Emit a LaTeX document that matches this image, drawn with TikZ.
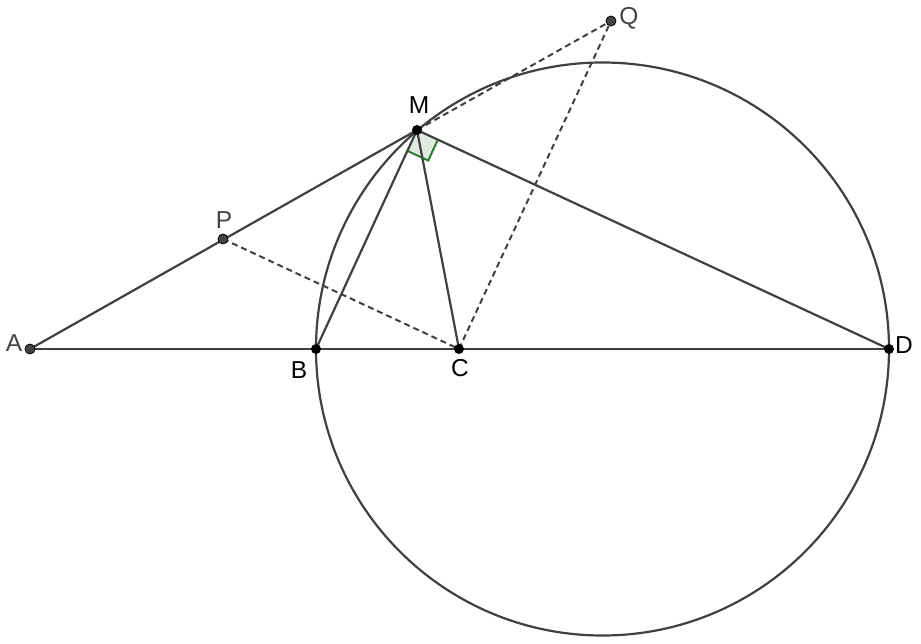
\documentclass[tikz,border=0pt]{standalone}
\usepackage{fontspec}
\setmainfont{Liberation Sans}
\usetikzlibrary{calc}
\definecolor{ln}{HTML}{404040}
\definecolor{gpt}{HTML}{444444}
\definecolor{rg}{HTML}{2E7D32}
\tikzset{
  seg/.style={draw=ln, line width=2.2pt},
  dsh/.style={draw=ln, line width=2pt, dash pattern=on 6pt off 4pt},
  bpt/.style={circle, fill=black, inner sep=0pt, minimum size=10pt},
  gptst/.style={circle, fill=gpt, draw=black, line width=0.8pt, inner sep=0pt, minimum size=10pt},
  lbl/.style={font=\fontsize{24.5}{28}\selectfont, inner sep=0pt},
}
\begin{document}
\begin{tikzpicture}[x=1pt,y=-1pt]
\useasboundingbox (0,0) rectangle (921,644);
\coordinate (A) at (30,349);
\coordinate (B) at (316,349);
\coordinate (C) at (459,349);
\coordinate (D) at (889,349);
\coordinate (M) at (417,130);
\coordinate (P) at (223,239);
\coordinate (Q) at (611,21);
\coordinate (O) at (602.5,349);
% right angle mark
\fill[rg!15] (M) -- ($(M)!23pt!(B)$) -- ($($(M)!23pt!(B)$)+($(M)!23pt!(D)$)-(M)$) -- ($(M)!23pt!(D)$) -- cycle;
\draw[rg, line width=2pt] ($(M)!23pt!(B)$) -- ($($(M)!23pt!(B)$)+($(M)!23pt!(D)$)-(M)$) -- ($(M)!23pt!(D)$);
% circle
\draw[seg] (O) circle[radius=286.5];
% segments
\draw[seg] (A) -- (D);
\draw[seg] (A) -- (M);
\draw[seg] (M) -- (B);
\draw[seg] (M) -- (C);
\draw[seg] (M) -- (D);
\draw[dsh] (P) -- (C);
\draw[dsh] (C) -- (Q);
\draw[dsh] (M) -- (Q);
% points
\node[gptst] (nA) at (A) {};
\node[gptst] (nP) at (P) {};
\node[gptst] (nQ) at (Q) {};
\node[bpt] (nB) at (B) {};
\node[bpt] (nC) at (C) {};
\node[bpt] (nD) at (D) {};
\node[bpt] (nM) at (M) {};
% labels
\node[lbl, text=gpt] (lA) at (14,343) {A};
\node[lbl, text=gpt] (lP) at (224,220) {P};
\node[lbl, text=gpt] (lQ) at (629,18) {Q};
\node[lbl] (lB) at (299,370) {B};
\node[lbl] (lC) at (460,368) {C};
\node[lbl] (lD) at (904,345) {D};
\node[lbl] (lM) at (419,105) {M};
\end{tikzpicture}
\end{document}
